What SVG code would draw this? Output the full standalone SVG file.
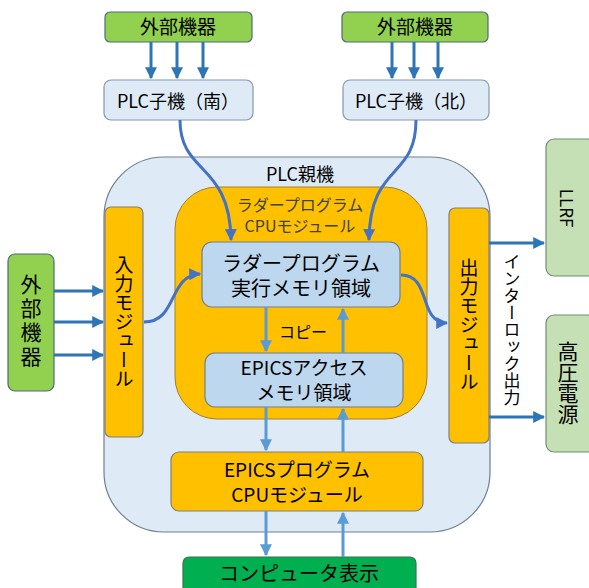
<svg xmlns="http://www.w3.org/2000/svg" width="589" height="588" viewBox="0 0 589 588">
<defs>
<style>
text{font-family:"Noto Sans CJK JP","Noto Sans",sans-serif;fill:#000}
.t18{font-size:18px}
.t19{font-size:19px}
.g{fill:#404040}
.vt{writing-mode:vertical-rl;text-orientation:upright}
.vm{writing-mode:vertical-rl}
.ext{fill:#92D050;stroke:#4E6B7A;stroke-width:1.2}
.sub{fill:#DEEBF7;stroke:#8497B0;stroke-width:1.2}
.mem{fill:#BDD7EE;stroke:#6F7F90;stroke-width:1.2}
.org{fill:#FFC000;stroke:#7F7F7F;stroke-width:1.2}
.out{fill:#C5E0B4;stroke:#6F8F70;stroke-width:1.2}
.a1{stroke:#2E75B6;stroke-width:3;fill:none}
.a2{stroke:#4472C4;stroke-width:3;fill:none}
.a3{stroke:#5B9BD5;stroke-width:3;fill:none}
</style>
<marker id="m1" viewBox="0 0 10 10" refX="9" refY="5" markerWidth="4" markerHeight="4" orient="auto" markerUnits="strokeWidth"><path d="M0,0L10,5L0,10z" fill="#2E75B6"/></marker>
<marker id="m2" viewBox="0 0 10 10" refX="9" refY="5" markerWidth="4" markerHeight="4" orient="auto" markerUnits="strokeWidth"><path d="M0,0L10,5L0,10z" fill="#4472C4"/></marker>
<marker id="m3" viewBox="0 0 10 10" refX="9" refY="5" markerWidth="4" markerHeight="4" orient="auto" markerUnits="strokeWidth"><path d="M0,0L10,5L0,10z" fill="#5B9BD5"/></marker>
</defs>

<g id="plc-parent">
<rect x="104" y="157" width="386" height="375" rx="60" fill="#DEEBF7" stroke="#6F7F90" stroke-width="1.2"/>
<text x="300" y="181" text-anchor="middle" class="t18">PLC親機</text>
</g>
<g id="ladder-cpu">
<rect x="175" y="187" width="252" height="232" rx="42" fill="#FFC000" stroke="#A08030" stroke-width="1"/>
<text text-anchor="middle" font-size="16" class="g"><tspan x="300" y="211">ラダープログラム</tspan><tspan x="300" y="232">CPUモジュール</tspan></text>
</g>
<g id="ext-south">
<rect x="105" y="12" width="147" height="30" rx="5" class="ext"/>
<text x="178" y="34" text-anchor="middle" class="t19">外部機器</text>
</g>
<g id="ext-north">
<rect x="342" y="12" width="146" height="30" rx="5" class="ext"/>
<text x="415" y="34" text-anchor="middle" class="t19">外部機器</text>
</g>
<g id="plc-south">
<rect x="104" y="80" width="149" height="40" rx="7" class="sub"/>
<text x="178" y="108" text-anchor="middle" class="t18">PLC子機（南）</text>
</g>
<g id="plc-north">
<rect x="343" y="80" width="146" height="40" rx="7" class="sub"/>
<text x="416" y="108" text-anchor="middle" class="t18">PLC子機（北）</text>
</g>
<g id="ladder-mem">
<rect x="202" y="242" width="198" height="65" rx="10" class="mem"/>
<text text-anchor="middle" font-size="20"><tspan x="301" y="271">ラダープログラム</tspan><tspan x="301" y="296">実行メモリ領域</tspan></text>
</g>
<g id="epics-mem">
<rect x="205" y="353" width="198" height="54" rx="10" class="mem"/>
<text text-anchor="middle" class="t19"><tspan x="304" y="375">EPICSアクセス</tspan><tspan x="304" y="400">メモリ領域</tspan></text>
</g>
<g id="epics-cpu">
<rect x="171" y="452" width="252" height="59" rx="8" class="org"/>
<text text-anchor="middle" class="t19"><tspan x="297" y="477">EPICSプログラム</tspan><tspan x="297" y="502">CPUモジュール</tspan></text>
</g>
<g id="computer">
<rect x="183" y="557" width="233" height="40" rx="6" fill="#00B050" stroke="#3F6F50" stroke-width="1.2"/>
<text x="299" y="581" text-anchor="middle" font-size="20">コンピュータ表示</text>
</g>
<g id="input-module">
<rect x="105" y="207" width="38" height="230" rx="6" class="org"/>
<text x="124" y="322" text-anchor="middle" class="t19 vt">入力モジュール</text>
</g>
<g id="output-module">
<rect x="449" y="208" width="40" height="235" rx="6" class="org"/>
<text x="469" y="325" text-anchor="middle" class="t19 vt">出力モジュール</text>
</g>
<g id="ext-left">
<rect x="8" y="254" width="46" height="137" rx="7" class="ext"/>
<text x="31" y="322" text-anchor="middle" font-size="21" letter-spacing="3" class="vt">外部機器</text>
</g>
<g id="llrf">
<rect x="546" y="139" width="50" height="137" rx="8" class="out"/>
<text x="567" y="208" text-anchor="middle" font-size="17" class="vm">LLRF</text>
</g>
<g id="hv-power">
<rect x="546" y="315" width="50" height="137" rx="8" class="out"/>
<text x="568" y="383" text-anchor="middle" font-size="21" class="vt">高圧電源</text>
</g>
<text x="512" y="330" text-anchor="middle" font-size="17" class="vt">インターロック出力</text>
<text x="303" y="338" text-anchor="middle" font-size="16" fill="#666">コピー</text>

<g id="connectors">
<path class="a1" marker-end="url(#m1)" d="M151,42V78"/>
<path class="a1" marker-end="url(#m1)" d="M177,42V78"/>
<path class="a1" marker-end="url(#m1)" d="M203,42V78"/>
<path class="a1" marker-end="url(#m1)" d="M392,42V78"/>
<path class="a1" marker-end="url(#m1)" d="M414,42V78"/>
<path class="a1" marker-end="url(#m1)" d="M438,42V78"/>
<path class="a1" marker-end="url(#m1)" d="M54,291H103"/>
<path class="a1" marker-end="url(#m1)" d="M54,322H103"/>
<path class="a1" marker-end="url(#m1)" d="M54,355H103"/>
<path class="a1" marker-end="url(#m1)" d="M489,243H544"/>
<path class="a1" marker-end="url(#m1)" d="M489,417H544"/>
<path class="a2" marker-end="url(#m2)" d="M180,120C180,175 230,162 231,240"/>
<path class="a2" marker-end="url(#m2)" d="M416,120C416,180 370,162 369,240"/>
<path class="a2" marker-end="url(#m2)" d="M144,322C178,322 168,275 200,274"/>
<path class="a2" marker-end="url(#m2)" d="M401,275C432,275 418,323 447,323"/>
<path class="a3" marker-end="url(#m3)" d="M266,307V351"/>
<path class="a3" marker-end="url(#m3)" d="M343,353V309"/>
<path class="a3" marker-end="url(#m3)" d="M266,407V450"/>
<path class="a3" marker-end="url(#m3)" d="M343,452V409"/>
<path class="a3" marker-end="url(#m3)" d="M266,511V555"/>
<path class="a3" marker-end="url(#m3)" d="M343,557V513"/>
</g>
</svg>
